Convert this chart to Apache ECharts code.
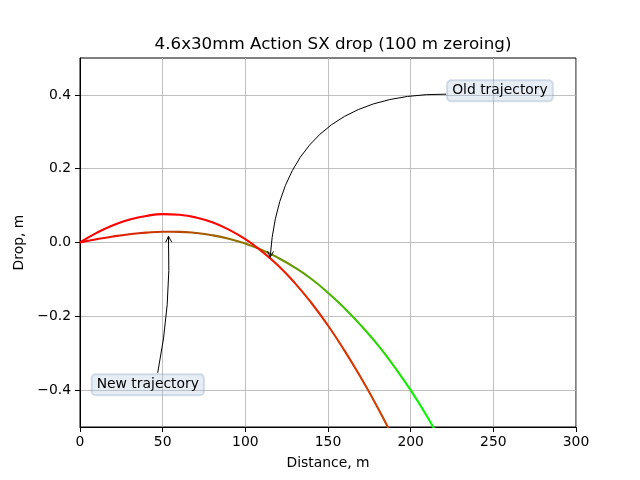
<!DOCTYPE html>
<html>
<head>
<meta charset="utf-8">
<script src="https://cdn.jsdelivr.net/npm/echarts@6/dist/echarts.min.js"></script>
<style>
    html, body { margin: 0; padding: 0; background: #fff; }
    #chart { width: 640px; height: 480px; }
</style>
</head>
<body>
<div id="chart"></div>
<script>
// Distances (m) and drops (m)
var distOld = [0, 10, 20, 30, 40, 50, 60, 70, 80, 90, 100, 110, 120, 130, 140, 150, 160, 170, 180, 190, 200, 210, 220];
var dropOld = [0, 0.0088, 0.0164, 0.0225, 0.0268, 0.029, 0.0288, 0.0258, 0.0197, 0.0102, -0.003, -0.020, -0.042, -0.068, -0.099, -0.136, -0.178, -0.225, -0.277, -0.336, -0.400, -0.472, -0.552];

var distNew = [0, 10, 20, 30, 40, 50, 60, 70, 80, 90, 100, 110, 120, 130, 140, 150, 160, 170, 180, 190];
var dropNew = [0, 0.026, 0.047, 0.062, 0.072, 0.077, 0.075, 0.068, 0.055, 0.035, 0.009, -0.024, -0.063, -0.110, -0.164, -0.225, -0.293, -0.367, -0.447, -0.534];

var yTicks = [-0.4, -0.2, 0.0, 0.2, 0.4];

// annotation boxes: [x, y, text]; arrows: [fromX, fromY, toX, toY, curveness]
var labelOld = [254, 0.410, 'Old trajectory'];
var labelNew = [41, -0.387, 'New trajectory'];
var arrowOld = [221.5, 0.402, 115, -0.040, -0.47];
var arrowNew = [47, -0.353, 53.5, 0.017, -0.06];

var colorsOld = ['#ff0000', '#00ff00'];
var colorsNew = ['#ff0000', '#ff0000', '#fa0a00', '#e02c00', '#c84400'];

function zip(xs, ys) {
    return xs.map(function (x, i) { return [x, ys[i]]; });
}

var font = 'DejaVu Sans';
var minus = function (v) { return v.toFixed(1).replace('-', '\u2212'); };

var chart = echarts.init(document.getElementById('chart'));

function boxLabel(l) {
    return {
        coord: [l[0], l[1]],
        symbolSize: 1,
        itemStyle: { color: 'rgba(0,0,0,0)' },
        label: {
            show: true,
            position: 'inside',
            formatter: l[2],
            fontFamily: font,
            fontSize: 13.9,
            color: '#000',
            backgroundColor: 'rgba(176,196,222,0.3)',
            borderColor: 'rgba(120,145,180,0.3)',
            borderWidth: 1,
            borderRadius: 4,
            padding: [4, 5, 3, 5]
        }
    };
}

var option = {
    animation: false,
    title: {
        text: '4.6x30mm Action SX drop (100 m zeroing)',
        left: 328,
        textAlign: 'center',
        top: 31,
        textStyle: { fontFamily: font, fontSize: 16.7, fontWeight: 'normal', color: '#000' }
    },
    grid: {
        left: 80, right: 64, top: 58, bottom: 53,
        show: true, borderColor: '#000', borderWidth: 1
    },
    xAxis: {
        type: 'value',
        min: 0, max: 300, interval: 50,
        name: 'Distance, m',
        nameLocation: 'middle',
        nameGap: 29,
        nameTextStyle: { fontFamily: font, fontSize: 13.9, color: '#000' },
        axisLine: { onZero: false, lineStyle: { color: '#000', width: 1 } },
        axisTick: { length: 5, lineStyle: { color: '#000' } },
        axisLabel: { fontFamily: font, fontSize: 13.9, color: '#000', margin: 8 },
        splitLine: { show: true, lineStyle: { color: '#b0b0b0', width: 0.8 } }
    },
    yAxis: {
        type: 'value',
        min: -0.5, max: 0.5,
        name: 'Drop, m',
        nameLocation: 'middle',
        nameGap: 40,
        nameTextStyle: { fontFamily: font, fontSize: 13.9, color: '#000' },
        axisLine: { show: true, onZero: false, lineStyle: { color: '#000', width: 1 } },
        axisTick: { show: true, length: 5, customValues: yTicks, lineStyle: { color: '#000' } },
        axisLabel: { fontFamily: font, fontSize: 13.9, color: '#000', margin: 9, customValues: yTicks, formatter: minus },
        splitLine: { show: true, lineStyle: { color: '#b0b0b0', width: 0.8 } }
    },
    visualMap: [
        { type: 'continuous', show: false, seriesIndex: 0, dimension: 0, min: 0, max: 214, inRange: { color: colorsOld } },
        { type: 'continuous', show: false, seriesIndex: 1, dimension: 0, min: 0, max: 190, inRange: { color: colorsNew } }
    ],
    series: [
        {
            name: 'Old', type: 'line', data: zip(distOld, dropOld),
            showSymbol: false, smooth: true, lineStyle: { width: 2.1 }
        },
        {
            name: 'New', type: 'line', data: zip(distNew, dropNew),
            showSymbol: false, smooth: true, lineStyle: { width: 2.1 }
        },
        {
            name: 'notes', type: 'line', data: [], z: 5,
            markPoint: {
                silent: true,
                animation: false,
                data: [boxLabel(labelOld), boxLabel(labelNew)]
            }
        }
    ]
};
chart.setOption(option);

// curved annotation arrows, placed through the grid's own scales
function arrowGraphic(a) {
    var p0 = chart.convertToPixel({ gridIndex: 0 }, [a[0], a[1]]);
    var p2 = chart.convertToPixel({ gridIndex: 0 }, [a[2], a[3]]);
    var c = a[4];
    var cx = (p0[0] + p2[0]) / 2 - (p0[1] - p2[1]) * c;
    var cy = (p0[1] + p2[1]) / 2 - (p2[0] - p0[0]) * c;
    // arrow head along the end tangent
    var tx = p2[0] - cx, ty = p2[1] - cy;
    var len = Math.sqrt(tx * tx + ty * ty);
    tx /= len; ty /= len;
    var hl = 6, hw = 3;
    var bx = p2[0] - tx * hl, by = p2[1] - ty * hl;
    return [
        {
            type: 'bezierCurve', z: 100, silent: true,
            shape: { x1: p0[0], y1: p0[1], x2: p2[0], y2: p2[1], cpx1: cx, cpy1: cy },
            style: { stroke: '#000', fill: null, lineWidth: 1 }
        },
        {
            type: 'polyline', z: 100, silent: true,
            shape: { points: [[bx - ty * hw, by + tx * hw], [p2[0], p2[1]], [bx + ty * hw, by - tx * hw]] },
            style: { stroke: '#000', fill: null, lineWidth: 1 }
        }
    ];
}

chart.setOption({
    graphic: arrowGraphic(arrowOld).concat(arrowGraphic(arrowNew))
});
</script>
</body>
</html>
